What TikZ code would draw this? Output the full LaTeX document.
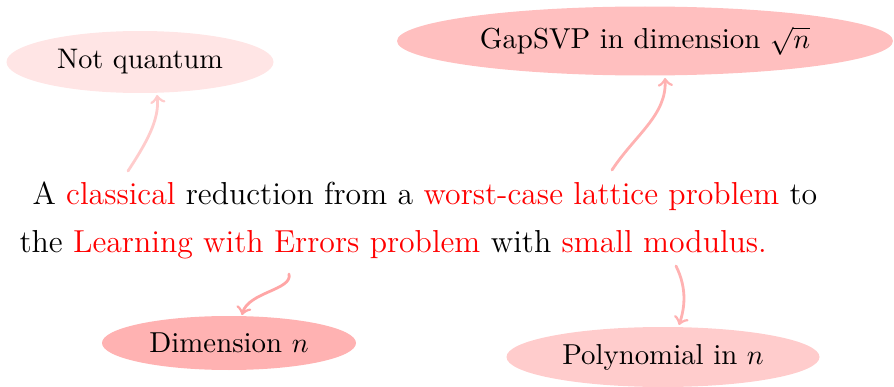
\documentclass[tikz,border=0pt]{standalone}
\usetikzlibrary{shapes.geometric}
\begin{document}
\begin{tikzpicture}[x=0.35714pt,y=-0.35714pt,
  bubble/.style={ellipse,inner sep=0pt,draw=none,font=\fontsize{10.3}{12}\selectfont},
  link/.style={line width=1pt,->,line cap=round},
  body/.style={anchor=base west,inner sep=0pt,font=\fontsize{11.35}{13}\selectfont}]
\useasboundingbox (0,0) rectangle (894,387);
% ellipses
\node[bubble,font=\fontsize{10.1}{12}\selectfont,fill=red!10,minimum width={267*0.35714pt},minimum height={62*0.35714pt}] (nq) at (140,62) {Not quantum};
\node[bubble,fill=red!25,minimum width={496*0.35714pt},minimum height={69*0.35714pt}] (gap) at (645,41) {GapSVP in dimension $\sqrt{n}$};
\node[bubble,fill=red!30,minimum width={254*0.35714pt},minimum height={54*0.35714pt}] (dim) at (229,343) {Dimension $n$};
\node[bubble,fill=red!20,minimum width={313*0.35714pt},minimum height={60*0.35714pt}] (poly) at (663,357) {Polynomial in $n$};
% text
\node[body] (l1) at (32,204) {A \textcolor{red}{classical} reduction from a \textcolor{red}{worst-case lattice problem} to};
\node[body] (l2) at (19,252) {the \textcolor{red}{Learning with Errors problem} with \textcolor{red}{small modulus.}};
% connector ends
\coordinate (s1) at (128,171);
\coordinate (e1) at (157,95);
\coordinate (s2) at (612,170);
\coordinate (e2) at (665,78);
\coordinate (s3) at (289,274);
\coordinate (e3) at (242,315);
\coordinate (s4) at (676,266);
\coordinate (e4) at (679,325);
\draw[link,red!20] (s1) .. controls (145,145) and (160,120) .. (e1);
\draw[link,red!30] (s2) .. controls (635,135) and (667,115) .. (e2);
\draw[link,red!35] (s3) .. controls (293,290) and (248,292) .. (e3);
\draw[link,red!30] (s4) .. controls (688,290) and (684,310) .. (e4);
\end{tikzpicture}
\end{document}
